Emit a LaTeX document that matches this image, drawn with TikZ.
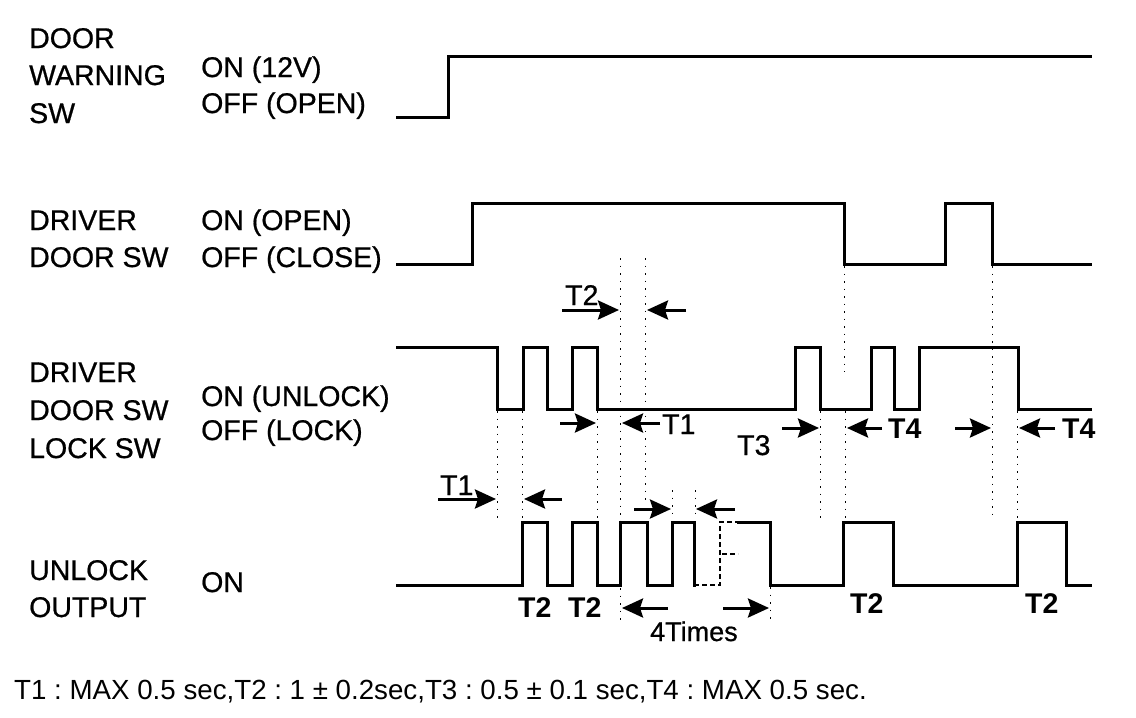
\documentclass[tikz,border=0pt]{standalone}
\usepackage{fontspec}
\setmainfont{Liberation Sans}
\newfontfamily\heavyfont{Liberation Sans}[FakeBold=0.7]
\usetikzlibrary{arrows.meta}
\frenchspacing
\tikzset{
  lbl/.style={anchor=base west, inner sep=0pt, font=\heavyfont\fontsize{28.5}{30}\selectfont},
  plbl/.style={anchor=base west, inner sep=0pt, font=\fontsize{27.7}{30}\selectfont},
  blbl/.style={anchor=base west, inner sep=0pt, font=\fontsize{28.5}{30}\selectfont\bfseries},
  wave/.style={line width=3pt, line join=miter, line cap=rect},
  dashwave/.style={line width=1.5pt, dash pattern=on 5pt off 3pt},
  guide/.style={line width=1pt, dash pattern=on 1.5pt off 6pt},
  tarrow/.style={line width=3pt, -{Stealth[length=21pt,width=19pt,inset=3pt]}}
}
\begin{document}
\begin{tikzpicture}[x=1pt,y=-1pt]
\useasboundingbox (0,0) rectangle (1136,718);
\fill[white] (0,0) rectangle (1136,718);

% ---- left labels
\node[lbl] (l1a) at (29,48) {DOOR};
\node[lbl] (l1b) at (29,85) {WARNING};
\node[lbl] (l1c) at (29,123) {SW};
\node[lbl] (s1a) at (201,77) {ON (12V)};
\node[lbl] (s1b) at (201,113) {OFF (OPEN)};

\node[lbl] (l2a) at (29,230) {DRIVER};
\node[lbl] (l2b) at (29,267) {DOOR SW};
\node[lbl] (s2a) at (201,230) {ON (OPEN)};
\node[lbl] (s2b) at (201,267) {OFF (CLOSE)};

\node[lbl] (l3a) at (29,382) {DRIVER};
\node[lbl] (l3b) at (29,420) {DOOR SW};
\node[lbl] (l3c) at (29,458) {LOCK SW};
\node[lbl] (s3a) at (201,406) {ON (UNLOCK)};
\node[lbl] (s3b) at (201,440) {OFF (LOCK)};

\node[lbl] (l4a) at (29,580) {UNLOCK};
\node[lbl] (l4b) at (29,617) {OUTPUT};
\node[lbl] (s4a) at (201,592) {ON};

% ---- guide (dotted) lines
\draw[guide] (620,258) -- (620,620);
\draw[guide] (645,258) -- (645,505);
\draw[guide] (497,411) -- (497,520);
\draw[guide] (522,411) -- (522,520);
\draw[guide] (597,411) -- (597,520);
\draw[guide] (672,490) -- (672,520);
\draw[guide] (695,490) -- (695,520);
\draw[guide] (770,587) -- (770,620);
\draw[guide] (844,266) -- (844,372);
\draw[guide] (845,411) -- (845,520);
\draw[guide] (820,411) -- (820,520);
\draw[guide] (992,266) -- (992,520);
\draw[guide] (1017,411) -- (1017,520);

% ---- waveforms
\draw[wave] (397,117) -- (448,117) -- (448,56) -- (1090,56);

\draw[wave] (397,264) -- (472,264) -- (472,203) -- (844,203) -- (844,264)
  -- (945,264) -- (945,203) -- (992,203) -- (992,264) -- (1090,264);

\draw[wave] (397,347) -- (497,347) -- (497,409) -- (523,409) -- (523,347)
  -- (547,347) -- (547,409) -- (572,409) -- (572,347) -- (597,347)
  -- (597,409) -- (795,409) -- (795,347) -- (820,347) -- (820,409)
  -- (871,409) -- (871,347) -- (894,347) -- (894,409) -- (919,409)
  -- (919,347) -- (1018,347) -- (1018,409) -- (1090,409);

\draw[wave] (397,585) -- (522,585) -- (522,522) -- (547,522) -- (547,585)
  -- (572,585) -- (572,522) -- (597,522) -- (597,585) -- (620,585)
  -- (620,522) -- (647,522) -- (647,585) -- (672,585) -- (672,522)
  -- (694,522) -- (694,585);
\draw[dashwave] (694,585) -- (720,585) -- (720,522) -- (738,522);
\draw[dashwave] (722,554) -- (738,554);
\draw[wave] (738,522) -- (770,522) -- (770,585) -- (843,585) -- (843,522)
  -- (893,522) -- (893,585) -- (1017,585) -- (1017,522) -- (1066,522)
  -- (1066,585) -- (1090,585);

% ---- timing arrows and labels
\node[lbl] (t2a) at (565,305) {T2};
\draw[tarrow] (562,310) -- (619,310);
\draw[tarrow] (686,310) -- (647,310);

\draw[tarrow] (560,423) -- (596,423);
\draw[tarrow] (660,423) -- (622,423);
\node[lbl] (t1a) at (662,434) {T1};

\node[lbl] (t3) at (737,455) {T3};
\draw[tarrow] (782,428) -- (819,428);
\draw[tarrow] (882,428) -- (847,428);
\node[blbl] (t4a) at (888,438) {T4};
\draw[tarrow] (955,428) -- (991,428);
\draw[tarrow] (1055,428) -- (1019,428);
\node[blbl] (t4b) at (1062,438) {T4};

\node[lbl] (t1b) at (440,495) {T1};
\draw[tarrow] (438,499) -- (496,499);
\draw[tarrow] (562,499) -- (524,499);
\draw[tarrow] (634,509) -- (671,509);
\draw[tarrow] (735,509) -- (696,509);

\node[blbl] (t2b) at (518,617) {T2};
\node[blbl] (t2c) at (568,617) {T2};
\node[blbl] (t2d) at (850,613) {T2};
\node[blbl] (t2e) at (1025,613) {T2};

\draw[tarrow] (668,608) -- (622,608);
\draw[tarrow] (723,608) -- (769,608);
\node[lbl, font=\heavyfont\fontsize{27}{28}\selectfont] (four) at (650,641) {4Times};

\node[plbl] (legend) at (14,699) {T1 : MAX 0.5 sec,T2 : 1 ± 0.2sec,T3 : 0.5 ± 0.1 sec,T4 : MAX 0.5 sec.};
\end{tikzpicture}
\end{document}
